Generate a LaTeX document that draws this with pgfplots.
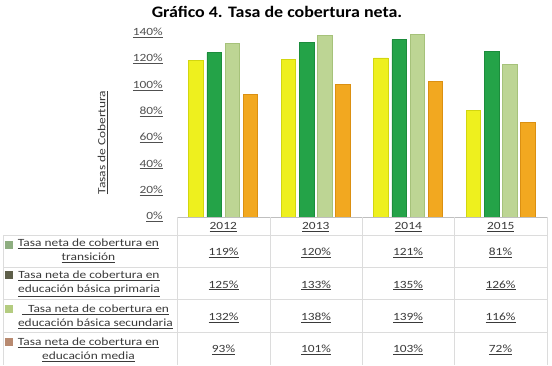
\documentclass[border=0pt]{standalone}
\usepackage{pgfplots}
\pgfplotsset{compat=1.18}
\usepackage{pgfplotstable}
\usepackage{fontspec}
\setmainfont{Carlito}[FakeStretch=1.22]
\newfontfamily\titlefont{Carlito}[FakeStretch=1.12]

\definecolor{txt}{HTML}{3A3A3A}
\definecolor{tickc}{HTML}{505050}
\definecolor{gridc}{HTML}{DCDCDC}
\definecolor{axisc}{HTML}{BFBFBF}
% bar colours
\definecolor{yelMid}{HTML}{EEF01E}
\definecolor{yelEdge}{HTML}{D2D610}
\definecolor{dgMid}{HTML}{24A348}
\definecolor{dgEdge}{HTML}{1C8C3C}
\definecolor{lgMid}{HTML}{BDD594}
\definecolor{lgEdge}{HTML}{A6C27A}
\definecolor{orMid}{HTML}{F2A820}
\definecolor{orEdge}{HTML}{DB9012}
% legend keys
\definecolor{keyA}{HTML}{8EAE80}
\definecolor{keyB}{HTML}{5E5F4A}
\definecolor{keyC}{HTML}{B4CC80}
\definecolor{keyD}{HTML}{B88A70}

\pgfplotstableread{
x trans prim sec media
0 119 125 132 93
1 120 133 138 101
2 121 135 139 103
3 81  126 116 72
}\cobertura

\newcommand{\tfont}{\fontsize{11}{14}\selectfont}

\begin{document}
\begin{tikzpicture}[x=1pt,y=1pt]
% page frame
\path (0,0) rectangle (552,365);

% title
\node[font=\titlefont\fontsize{16}{18}\selectfont\bfseries] at (277,353) {Gráfico 4. Tasa de cobertura neta.};

\begin{axis}[
  at={(177pt,148pt)}, anchor=south west,
  scale only axis, width=370pt, height=184pt,
  xmin=-0.5, xmax=3.5, ymin=0, ymax=140,
  axis line style={draw=none},
  tick style={draw=none},
  xtick={0,1,2,3},
  xticklabels={\underline{2012},\underline{2013},\underline{2014},\underline{2015}},
  xticklabel style={inner sep=0pt, yshift=-5pt, text=txt, font=\tfont},
  ytick={0,20,...,140},
  yticklabels={\underline{0\%},\underline{20\%},\underline{40\%},\underline{60\%},\underline{80\%},\underline{100\%},\underline{120\%},\underline{140\%}},
  yticklabel style={anchor=east, inner sep=0pt, xshift=-14pt, text=tickc, font=\tfont},
  clip=false,
  every axis plot/.append style={ybar, bar width=14.5pt, line width=0.7pt},
]
\addplot[bar shift=-27.3pt, draw=yelEdge, fill=yelMid] table[x=x, y=trans] {\cobertura};
\addplot[bar shift=-9.1pt,  draw=dgEdge,  fill=dgMid]  table[x=x, y=prim]  {\cobertura};
\addplot[bar shift=9.1pt,   draw=lgEdge,  fill=lgMid]  table[x=x, y=sec]   {\cobertura};
\addplot[bar shift=27.3pt,  draw=orEdge,  fill=orMid]  table[x=x, y=media] {\cobertura};
\end{axis}

% axis line and data table grid
\draw[axisc, line width=0.8pt] (177,148) -- (547,148);
\foreach \yy in {130,98,66,33} \draw[gridc, line width=0.8pt] (3,\yy) -- (547,\yy);
\foreach \xx in {177,270,362,454,547} \draw[gridc, line width=0.8pt] (\xx,148) -- (\xx,0.5);
\draw[gridc, line width=0.8pt] (3,130) -- (3,0.5);

% y axis title
\node[rotate=90, font=\tfont, text=txt] at (102.7,222.5) {\underline{Tasas de Cobertura}};

% row headers with keys
\fill[keyA] (5,116) rectangle (13,124);
\fill[keyB] (5,86) rectangle (13,94);
\fill[keyC] (5,52) rectangle (13,60);
\fill[keyD] (5,19) rectangle (13,27);
\begin{scope}[every node/.style={align=center, font=\tfont, text=txt, inner sep=0pt}]
\node at (88.5,114) {\underline{Tasa neta de cobertura en}\\\underline{transición}};
\node at (89,81) {\underline{Tasa neta de cobertura en}\\\underline{educación básica primaria}};
\node at (95.5,48.5) {\underline{\ \ Tasa neta de cobertura en}\\\underline{educación básica secundaria}};
\node at (88.5,15.5) {\underline{Tasa neta de cobertura en}\\\underline{educación media}};
% values
\foreach \a/\b/\c/\d [count=\r from 0] in {119/120/121/81, 125/133/135/126, 132/138/139/116, 93/101/103/72}{
  \pgfmathsetmacro{\yy}{112-32.3*\r}
  \node at (223.5,\yy) {\underline{\a\%}};
  \node at (316,\yy) {\underline{\b\%}};
  \node at (408,\yy) {\underline{\c\%}};
  \node at (500.5,\yy) {\underline{\d\%}};
}
\end{scope}
\end{tikzpicture}
\end{document}
